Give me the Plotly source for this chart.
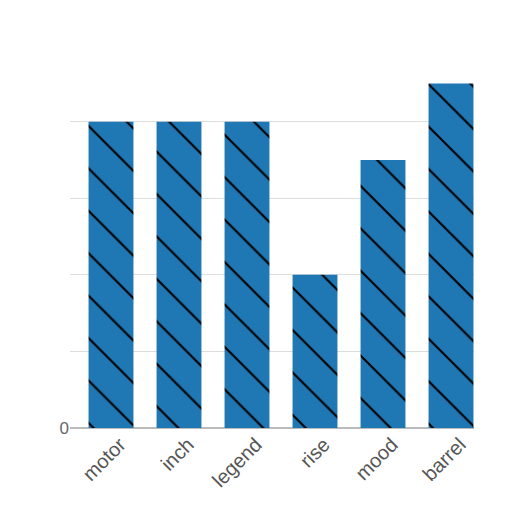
import plotly.graph_objects as go

categories = ["motor", "inch", "legend", "rise", "mood", "barrel"]
values = [4, 4, 4, 2, 3.5, 4.5]
y_tick_vals = [0, 1, 2, 3, 4]
y_tick_text = ["0", "", "", "", ""]

fig = go.Figure(
    go.Bar(
        x=categories,
        y=values,
        marker=dict(
            color="#1f77b4",
            line=dict(width=0),
            pattern=dict(shape="\\", size=30, solidity=0.07, fgcolor="#000000", fgopacity=1, fillmode="overlay"),
        ),
    )
)

fig.update_layout(
    width=512,
    height=512,
    autosize=False,
    margin=dict(l=62, r=46, t=57, b=92),
    paper_bgcolor="white",
    plot_bgcolor="white",
    bargap=0.34,
    showlegend=False,
    font=dict(family="Liberation Sans, Arial, sans-serif", size=17, color="#666666"),
)
fig.update_xaxes(
    range=[-0.603, 5.338],
    tickangle=-45,
    tickfont=dict(size=20, color="#555555"),
    ticklabelshift=9,
    showgrid=False,
    showline=False,
    ticks="",
)
fig.update_yaxes(
    range=[0, 4.74],
    tickvals=y_tick_vals,
    ticktext=y_tick_text,
    showgrid=True,
    gridcolor="#dddddd",
    gridwidth=1,
    zeroline=True,
    zerolinecolor="#bbbbbb",
    zerolinewidth=2,
    ticks="",
)

fig.write_html("out.html")
